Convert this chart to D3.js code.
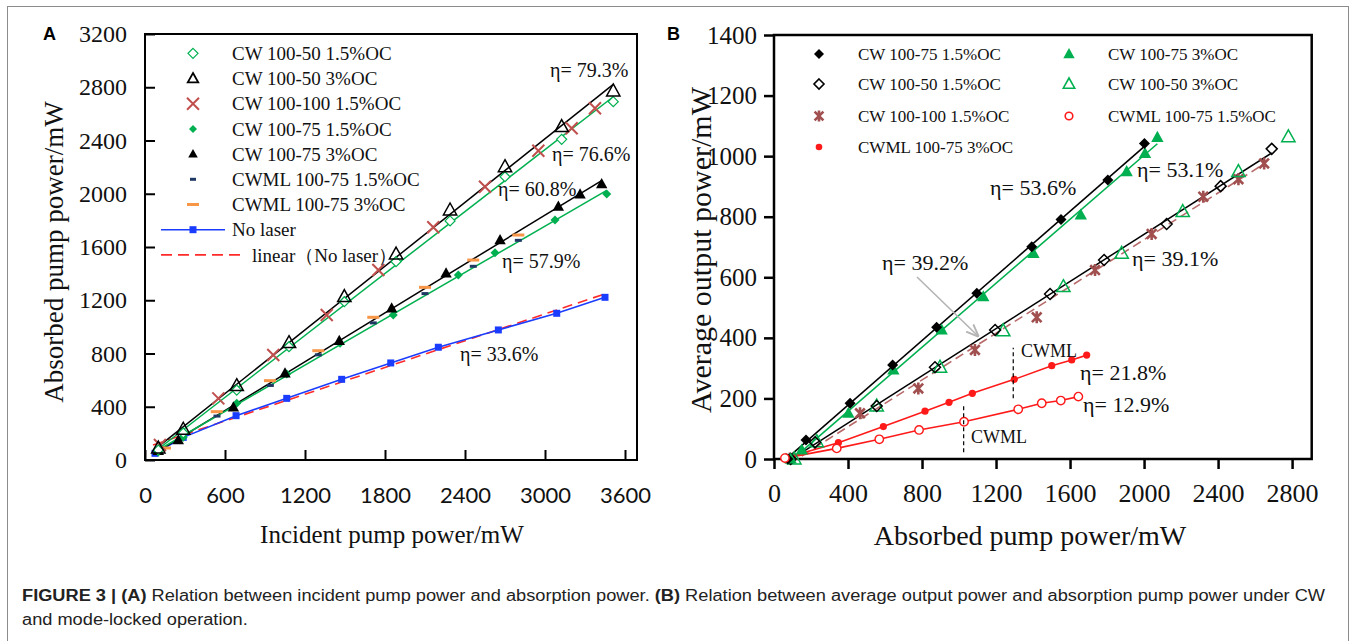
<!DOCTYPE html>
<html><head><meta charset="utf-8">
<script src="https://cdn.jsdelivr.net/npm/d3@7"></script>
<style>body{margin:0;background:#fff} svg{display:block}</style>
</head><body>
<svg id="c" width="1355" height="641"></svg>
<script>
// ---------------- DATA ----------------
// Panel A: incident pump power (mW) vs absorbed pump power (mW)
const aTicksX = [0, 600, 1200, 1800, 2400, 3000, 3600];
const aTicksY = [0, 400, 800, 1200, 1600, 2000, 2400, 2800, 3200];
const aCw50_15X = [100, 287, 688, 1080, 1495, 1883, 2288, 2700, 3125, 3512];
const aCw50_15Y = [75, 203, 525, 851, 1189, 1490, 1796, 2128, 2409, 2692];
const aCw50_3X  = [100, 287, 688, 1080, 1495, 1883, 2288, 2700, 3125, 3512];
const aCw50_3Y  = [90, 231, 558, 881, 1227, 1547, 1878, 2203, 2504, 2772];
const aCw100_15X = [112, 550, 962, 1363, 1750, 2162, 2550, 2950, 3200, 3375];
const aCw100_15Y = [113, 463, 789, 1089, 1427, 1748, 2053, 2323, 2492, 2642];
const aCw75_15X = [100, 287, 688, 1063, 1463, 1862, 2350, 2625, 3075, 3463];
const aCw75_15Y = [60, 170, 426, 646, 877, 1089, 1390, 1557, 1803, 1998];
const aCw75_3X  = [100, 250, 663, 1050, 1457, 1850, 2258, 2663, 3100, 3263, 3425];
const aCw75_3Y  = [70, 150, 396, 651, 896, 1140, 1403, 1653, 1904, 1996, 2073];
const aMl15X = [100, 540, 940, 1300, 1712, 2100, 2462, 2800];
const aMl15Y = [60, 330, 560, 790, 1030, 1250, 1455, 1650];
const aMl3X  = [150, 538, 937, 1300, 1712, 2100, 2462, 2800];
const aMl3Y  = [90, 363, 596, 821, 1072, 1297, 1502, 1690];
const aNoLaserX = [75, 287, 683, 1063, 1475, 1843, 2200, 2650, 3088, 3450];
const aNoLaserY = [50, 170, 333, 463, 606, 729, 847, 977, 1102, 1222];
const aLinearX = [60, 3450];
const aLinearY = [112, 1248];
const aLegend = ["CW 100-50 1.5%OC", "CW 100-50 3%OC", "CW 100-100 1.5%OC", "CW 100-75 1.5%OC",
                 "CW 100-75 3%OC", "CWML 100-75 1.5%OC", "CWML 100-75 3%OC", "No laser", "linear（No laser）"];
const aEta = ["η= 79.3%", "η= 76.6%", "η= 60.8%", "η= 57.9%", "η= 33.6%"];

// Panel B: absorbed pump power (mW) vs average output power (mW)
const bTicksX = [0, 400, 800, 1200, 1600, 2000, 2400, 2800];
const bTicksY = [0, 200, 400, 600, 800, 1000, 1200, 1400];
const bCw75_15X = [75, 173, 411, 641, 879, 1096, 1393, 1551, 1804, 2002];
const bCw75_15Y = [0, 63, 184, 310, 435, 547, 701, 791, 921, 1042];
const bCw75_3X  = [90, 150, 402, 645, 906, 1131, 1402, 1658, 1906, 2005, 2072];
const bCw75_3Y  = [0, 30, 151, 294, 426, 536, 679, 806, 949, 1009, 1062];
const bCw50_15X = [90, 222, 555, 870, 1195, 1492, 1784, 2122, 2414, 2690];
const bCw50_15Y = [0, 55, 175, 303, 426, 545, 657, 776, 901, 1024];
const bCw50_3X  = [110, 231, 555, 897, 1239, 1564, 1879, 2209, 2510, 2780];
const bCw50_3Y  = [0, 57, 175, 303, 423, 569, 679, 817, 949, 1064];
const bCw100_15X = [86, 465, 780, 1086, 1420, 1735, 2041, 2320, 2510, 2649];
const bCw100_15Y = [2, 151, 233, 360, 468, 624, 743, 866, 924, 976];
const bMl3X = [59, 348, 591, 816, 946, 1072, 1299, 1501, 1609, 1690];
const bMl3Y = [3, 54, 107, 158, 187, 217, 263, 308, 327, 343];
const bMl15X = [59, 339, 569, 784, 1027, 1320, 1447, 1550, 1645];
const bMl15Y = [3, 35, 65, 96, 123, 164, 184, 193, 206];
const bLegend = ["CW 100-75 1.5%OC", "CW 100-50 1.5%OC", "CW 100-100 1.5%OC", "CWML 100-75 3%OC",
                 "CW 100-75 3%OC", "CW 100-50 3%OC", "CWML 100-75 1.5%OC"];
const bEta = ["η= 53.6%", "η= 53.1%", "η= 39.2%", "η= 39.1%", "η= 21.8%", "η= 12.9%"];

// ---------------- DRAWING ----------------
const svg = d3.select('#c');
const SERIF = '"Liberation Serif","Times New Roman",serif';
const SANS = '"Liberation Sans",Arial,sans-serif';
const CAL = 'Lato,"Liberation Sans",sans-serif';
const GREEN = '#00b050', XRED = '#c0504d', BLUE = '#1a3cff', NAVY = '#1f3864', ORANGE = '#f79646',
      BROWN = '#a14f4f', RED = '#ff1a1a';

svg.append('rect').attr('x', 7.5).attr('y', 6.5).attr('width', 1341).attr('height', 700)
  .attr('fill', 'none').attr('stroke', '#8c8c8c').attr('stroke-width', 1);

const sym = {
  diamond: s => `M0,${-s}L${s},0L0,${s}L${-s},0Z`,
  triangle: s => `M0,${-s}L${s*0.95},${s*0.7}L${-s*0.95},${s*0.7}Z`,
  x: s => `M${-s},${-s}L${s},${s}M${s},${-s}L${-s},${s}`,
  square: s => `M${-s},${-s}H${s}V${s}H${-s}Z`,
  circle: s => `M${s},0A${s},${s},0,1,1,${-s},0A${s},${s},0,1,1,${s},0Z`,
  asterisk: s => { const a = s*0.8; return `M0,${-s}L0,${s}M${-a},${-a}L${a},${a}M${-a},${a}L${a},${-a}`; },
  dash: s => `M${-s},0H${s}`
};

function pts(g, xs, ys, xS, yS, type, s, fill, stroke, sw) {
  g.append('g').selectAll('path').data(d3.zip(xs, ys)).join('path')
    .attr('transform', d => `translate(${xS(d[0])},${yS(d[1])})`)
    .attr('d', sym[type](s)).attr('fill', fill).attr('stroke', stroke).attr('stroke-width', sw);
}
function fitLine(g, xs, ys, xS, yS, color, sw, dash) {
  const n = xs.length, mx = d3.mean(xs), my = d3.mean(ys);
  let num = 0, den = 0;
  for (let i = 0; i < n; i++) { num += (xs[i]-mx)*(ys[i]-my); den += (xs[i]-mx)**2; }
  const m = num/den, b = my - m*mx;
  const x0 = d3.min(xs), x1 = d3.max(xs);
  const l = g.append('line').attr('x1', xS(x0)).attr('y1', yS(m*x0+b)).attr('x2', xS(x1)).attr('y2', yS(m*x1+b))
    .attr('stroke', color).attr('stroke-width', sw);
  if (dash) l.attr('stroke-dasharray', dash);
}
function poly(g, xs, ys, xS, yS, color, sw, dash) {
  const p = g.append('path').datum(d3.zip(xs, ys))
    .attr('d', d3.line().x(d => xS(d[0])).y(d => yS(d[1])))
    .attr('fill', 'none').attr('stroke', color).attr('stroke-width', sw);
  if (dash) p.attr('stroke-dasharray', dash);
}

// ===== Panel A =====
const xA = d3.scaleLinear().domain([0, 3690]).range([145, 637]);
const yA = d3.scaleLinear().domain([0, 3200]).range([460, 34]);
const gA = svg.append('g');

const axXA = gA.append('g').attr('transform', 'translate(0,460)')
  .call(d3.axisBottom(xA).tickValues(aTicksX).tickSizeInner(-10).tickSizeOuter(0).tickPadding(27).tickFormat(d3.format('d')));
axXA.selectAll('text').attr('font-family', CAL).attr('font-size', 22).attr('fill', '#111');
const axYA = gA.append('g').attr('transform', 'translate(145,0)')
  .call(d3.axisLeft(yA).tickValues(aTicksY).tickSizeInner(-10).tickSizeOuter(0).tickPadding(18).tickFormat(d3.format('d')));
axYA.selectAll('text').attr('font-family', SERIF).attr('font-size', 24).attr('fill', '#111');
gA.selectAll('.domain').remove();
gA.selectAll('.tick line').attr('stroke', '#000').attr('stroke-width', 2);
gA.append('rect').attr('x', 145).attr('y', 34).attr('width', 492).attr('height', 426)
  .attr('fill', 'none').attr('stroke', '#000').attr('stroke-width', 2);

gA.append('text').attr('x', 392).attr('y', 543).attr('text-anchor', 'middle')
  .attr('font-family', SERIF).attr('font-size', 25).attr('fill', '#111').text('Incident pump power/mW');
gA.append('text').attr('transform', 'translate(63,252) rotate(-90)').attr('text-anchor', 'middle')
  .attr('font-family', SERIF).attr('font-size', 27).attr('fill', '#111').text('Absorbed pump power/mW');
svg.append('text').attr('x', 43).attr('y', 40).attr('font-family', SANS).attr('font-weight', 'bold')
  .attr('font-size', 18).text('A');

// lines
fitLine(gA, aLinearX, aLinearY, xA, yA, '#ff2a2a', 1.6, '10,6');
poly(gA, aNoLaserX, aNoLaserY, xA, yA, BLUE, 1.6);
fitLine(gA, aCw50_3X, aCw50_3Y, xA, yA, '#000', 1.5);
fitLine(gA, aCw50_15X, aCw50_15Y, xA, yA, GREEN, 1.5);
fitLine(gA, aCw75_3X, aCw75_3Y, xA, yA, '#000', 1.5);
fitLine(gA, aCw75_15X, aCw75_15Y, xA, yA, GREEN, 1.5);
// markers
pts(gA, aMl3X, aMl3Y, xA, yA, 'dash', 6, 'none', ORANGE, 3);
pts(gA, aMl15X, aMl15Y, xA, yA, 'dash', 3.5, 'none', NAVY, 3);
pts(gA, aNoLaserX, aNoLaserY, xA, yA, 'square', 3.5, BLUE, 'none', 0);
pts(gA, aCw100_15X, aCw100_15Y, xA, yA, 'x', 6, 'none', XRED, 2);
pts(gA, aCw75_15X, aCw75_15Y, xA, yA, 'diamond', 4.5, GREEN, 'none', 0);
pts(gA, aCw75_3X, aCw75_3Y, xA, yA, 'triangle', 6, '#000', 'none', 0);
pts(gA, aCw50_15X, aCw50_15Y, xA, yA, 'diamond', 5, '#fff', GREEN, 1.2);
pts(gA, aCw50_3X, aCw50_3Y, xA, yA, 'triangle', 7, 'none', '#000', 1.5);

// legend A
const legA = gA.append('g');
const legAType = [
  ['diamond', 5, 'none', GREEN, 1.2], ['triangle', 5.5, 'none', '#000', 1.8], ['x', 6, 'none', XRED, 2],
  ['diamond', 4, GREEN, 'none', 0], ['triangle', 5, '#000', 'none', 0], ['dash', 3, 'none', NAVY, 3],
  ['dash', 6, 'none', ORANGE, 3]];
aLegend.forEach((t, i) => {
  const y = 53.3 + i * 25.2;
  if (i < 7) {
    const [tp, s, f, st, sw] = legAType[i];
    legA.append('path').attr('transform', `translate(193,${y})`).attr('d', sym[tp](s))
      .attr('fill', f).attr('stroke', st).attr('stroke-width', sw);
  } else if (i === 7) {
    legA.append('line').attr('x1', 161).attr('x2', 225).attr('y1', y).attr('y2', y).attr('stroke', BLUE).attr('stroke-width', 1.6);
    legA.append('path').attr('transform', `translate(193,${y})`).attr('d', sym.square(3.5)).attr('fill', BLUE);
  } else {
    legA.append('line').attr('x1', 161).attr('x2', 243).attr('y1', y).attr('y2', y).attr('stroke', '#ff2a2a')
      .attr('stroke-width', 1.6).attr('stroke-dasharray', '11,6');
  }
  legA.append('text').attr('x', i === 8 ? 252 : 232).attr('y', y).attr('dy', '0.35em')
    .attr('font-family', SERIF).attr('font-size', 19).attr('fill', '#111').text(t);
});
// eta labels A
const etaAPos = [[550, 77], [552, 161], [498, 196], [502, 268], [460, 361]];
aEta.forEach((t, i) => gA.append('text').attr('x', etaAPos[i][0]).attr('y', etaAPos[i][1])
  .attr('font-family', SERIF).attr('font-size', 20).attr('fill', '#111').text(t));

// ===== Panel B =====
const xB = d3.scaleLinear().domain([0, 2906]).range([774, 1311.7]);
const yB = d3.scaleLinear().domain([0, 1400]).range([459, 35]);
const gB = svg.append('g');
const axXB = gB.append('g').attr('transform', 'translate(0,459)')
  .call(d3.axisBottom(xB).tickValues(bTicksX).tickSizeInner(10).tickSizeOuter(0).tickPadding(15).tickFormat(d3.format('d')));
axXB.selectAll('text').attr('font-family', SERIF).attr('font-size', 26).attr('fill', '#111');
const axYB = gB.append('g').attr('transform', 'translate(774,0)')
  .call(d3.axisLeft(yB).tickValues(bTicksY).tickSizeInner(10).tickSizeOuter(0).tickPadding(7).tickFormat(d3.format('d')));
axYB.selectAll('text').attr('font-family', SERIF).attr('font-size', 25).attr('fill', '#111');
gB.selectAll('.domain').remove();
gB.selectAll('.tick line').attr('stroke', '#000').attr('stroke-width', 2.5);
gB.append('rect').attr('x', 774).attr('y', 35).attr('width', 537.7).attr('height', 424)
  .attr('fill', 'none').attr('stroke', '#000').attr('stroke-width', 2.5);
gB.append('text').attr('x', 1030).attr('y', 545).attr('text-anchor', 'middle')
  .attr('font-family', SERIF).attr('font-size', 28).attr('fill', '#111').text('Absorbed pump power/mW');
gB.append('text').attr('transform', 'translate(711,250) rotate(-90)').attr('text-anchor', 'middle')
  .attr('font-family', SERIF).attr('font-size', 30).attr('fill', '#111').text('Average output power/mW');
svg.append('text').attr('x', 667).attr('y', 40).attr('font-family', SANS).attr('font-weight', 'bold')
  .attr('font-size', 18).text('B');

// lines B
fitLine(gB, bCw100_15X, bCw100_15Y, xB, yB, '#b86a6a', 1.6, '9,5');
fitLine(gB, bCw50_15X, bCw50_15Y, xB, yB, '#000', 1.5);
fitLine(gB, bCw75_3X, bCw75_3Y, xB, yB, GREEN, 1.6);
fitLine(gB, bCw75_15X, bCw75_15Y, xB, yB, '#000', 1.6);
poly(gB, bMl3X, bMl3Y, xB, yB, RED, 1.6);
poly(gB, bMl15X, bMl15Y, xB, yB, RED, 1.6);
// markers B
pts(gB, bCw100_15X, bCw100_15Y, xB, yB, 'asterisk', 6, 'none', BROWN, 2.6);
pts(gB, bCw50_3X, bCw50_3Y, xB, yB, 'triangle', 7, 'none', GREEN, 1.5);
pts(gB, bCw50_15X, bCw50_15Y, xB, yB, 'diamond', 5.5, 'none', '#000', 1.5);
pts(gB, bCw75_3X, bCw75_3Y, xB, yB, 'triangle', 6.5, GREEN, 'none', 0);
pts(gB, bCw75_15X, bCw75_15Y, xB, yB, 'diamond', 5.5, '#000', 'none', 0);
pts(gB, bMl3X, bMl3Y, xB, yB, 'circle', 3.6, RED, 'none', 0);
pts(gB, bMl15X, bMl15Y, xB, yB, 'circle', 4.2, '#fff', RED, 1.4);

// annotations B
const cwmlMarks = [[1025, 22, 178], [1293, 201, 367]];
cwmlMarks.forEach(m => gB.append('line').attr('x1', xB(m[0])).attr('x2', xB(m[0]))
  .attr('y1', yB(m[1])).attr('y2', yB(m[2])).attr('stroke', '#000').attr('stroke-width', 1.2).attr('stroke-dasharray', '4,3'));
gB.append('text').attr('x', 971).attr('y', 443).attr('font-family', SERIF).attr('font-size', 18).attr('fill', '#111').text('CWML');
gB.append('text').attr('x', 1021).attr('y', 357).attr('font-family', SERIF).attr('font-size', 18).attr('fill', '#111').text('CWML');
const etaBPos = [[990, 195], [1137, 177], [882, 270], [1132, 266], [1080, 380], [1083, 412]];
bEta.forEach((t, i) => gB.append('text').attr('x', etaBPos[i][0]).attr('y', etaBPos[i][1])
  .attr('font-family', SERIF).attr('font-size', 22).attr('fill', '#111').text(t));
svg.append('defs').append('marker').attr('id', 'ah').attr('viewBox', '0 0 10 10').attr('refX', 9).attr('refY', 5)
  .attr('markerWidth', 8).attr('markerHeight', 8).attr('orient', 'auto-start-reverse')
  .append('path').attr('d', 'M0,1L10,5L0,9').attr('fill', 'none').attr('stroke', '#b4b4b4').attr('stroke-width', 1.5);
gB.append('line').attr('x1', 917).attr('y1', 277).attr('x2', 978).attr('y2', 336)
  .attr('stroke', '#b4b4b4').attr('stroke-width', 1.6).attr('marker-end', 'url(#ah)');

// legend B
const legBType = [
  ['diamond', 5, '#000', 'none', 0], ['diamond', 5, 'none', '#000', 1.6], ['asterisk', 5.5, 'none', BROWN, 2.6],
  ['circle', 3.3, RED, 'none', 0], ['triangle', 6, GREEN, 'none', 0], ['triangle', 6, 'none', GREEN, 1.6],
  ['circle', 3.8, 'none', RED, 1.6]];
const legBRows = [54, 84, 116, 147];
bLegend.forEach((t, i) => {
  const col = i < 4 ? 0 : 1, row = i < 4 ? i : i - 4;
  const mx = col ? 1069 : 819, tx = col ? 1108 : 858, y = legBRows[row];
  const [tp, s, f, st, sw] = legBType[i];
  gB.append('path').attr('transform', `translate(${mx},${y})`).attr('d', sym[tp](s))
    .attr('fill', f).attr('stroke', st).attr('stroke-width', sw);
  gB.append('text').attr('x', tx).attr('y', y).attr('dy', '0.35em').attr('font-family', SERIF)
    .attr('font-size', 17).attr('fill', '#111').text(t);
});

// ===== Caption =====
const cap = svg.append('g').attr('font-family', SANS).attr('font-size', 16).attr('fill', '#222');
const l1 = cap.append('text').attr('x', 22).attr('y', 601);
l1.append('tspan').attr('font-weight', 'bold').text('FIGURE 3 | (A)');
l1.append('tspan').text(' Relation between incident pump power and absorption power. ');
l1.append('tspan').attr('font-weight', 'bold').text('(B)');
l1.append('tspan').text(' Relation between average output power and absorption pump power under CW');
const l2 = cap.append('text').attr('x', 22).attr('y', 625).text('and mode-locked operation.');
const w1 = l1.node().getComputedTextLength();
const k = 1303 / w1;
l1.attr('textLength', 1303).attr('lengthAdjust', 'spacingAndGlyphs');
l2.attr('textLength', l2.node().getComputedTextLength() * k).attr('lengthAdjust', 'spacingAndGlyphs');
</script>
</body></html>
